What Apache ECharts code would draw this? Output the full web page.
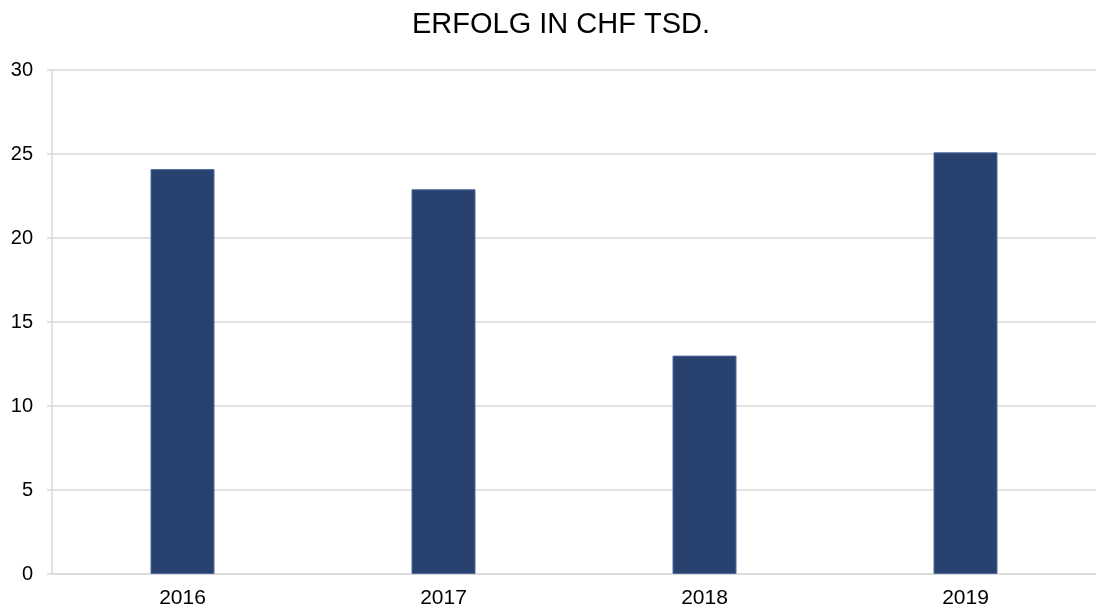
<!DOCTYPE html>
<html>
<head>
<meta charset="utf-8">
<script src="https://cdn.jsdelivr.net/npm/echarts@6/dist/echarts.min.js"></script>
<style>
  html, body { margin: 0; padding: 0; background: #fff; }
  #chart { width: 1096px; height: 614px; }
</style>
</head>
<body>
<div id="chart"></div>
<script>
// Daten
var years = ['2016', '2017', '2018', '2019'];
var erfolg = [24.1, 22.9, 13.0, 25.1];
var yTicks = [0, 5, 10, 15, 20, 25, 30];

var myChart = echarts.init(document.getElementById('chart'));
var gray = '#d9d9d9';
var font = 'Liberation Sans, Arial, sans-serif';

var option = {
    animation: false,
    title: {
        text: 'ERFOLG IN CHF TSD.',
        left: 407,
        top: 5,
        textStyle: { fontFamily: font, fontSize: 29, fontWeight: 'normal', color: '#000' }
    },
    grid: { left: 52, right: 0, top: 70, bottom: 40, containLabel: false },
    xAxis: {
        type: 'category',
        data: years,
        axisLine: { lineStyle: { color: gray, width: 1.5 } },
        axisTick: { show: false },
        axisLabel: { color: '#000', fontFamily: font, fontSize: 21, margin: 14 }
    },
    yAxis: {
        type: 'value',
        min: yTicks[0],
        max: yTicks[yTicks.length - 1],
        interval: 5,
        axisLine: { show: true, lineStyle: { color: gray, width: 1.5 } },
        axisTick: { show: true, length: 5, lineStyle: { color: gray, width: 1.5 } },
        splitLine: { lineStyle: { color: gray, width: 1.5 } },
        axisLabel: { color: '#000', fontFamily: font, fontSize: 20, margin: 19 }
    },
    series: [{
        type: 'bar',
        data: erfolg,
        barWidth: 64,
        itemStyle: { color: '#29416f', borderColor: '#4f6b9c', borderWidth: 1 }
    }]
};
myChart.setOption(option);
</script>
</body>
</html>
